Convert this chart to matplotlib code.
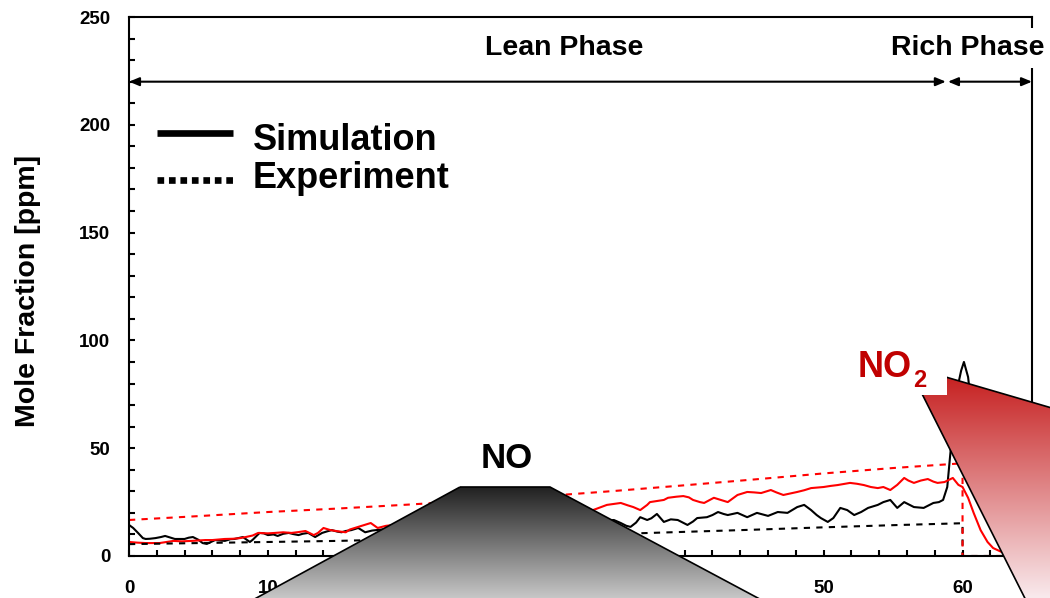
import numpy as np
import matplotlib
matplotlib.use("Agg")
import matplotlib.pyplot as plt
from matplotlib.patches import Polygon, Rectangle
from matplotlib.lines import Line2D
from matplotlib.ticker import MultipleLocator

plt.rcParams['font.family'] = ['Liberation Sans', 'DejaVu Sans']
plt.rcParams['font.weight'] = 'bold'

# --- data ---
# NO simulation (black solid)
no_sim_t = [0, 0.3, 0.65, 1.0, 1.2, 1.5, 1.9, 2.3, 2.6, 3.0, 3.3, 4.0, 4.3, 4.6, 5.0, 5.3, 5.6,
            5.9, 6.2, 6.9, 7.3, 7.6, 8.2, 8.7, 8.9, 9.4, 9.7, 10.0, 10.4, 10.7, 11.1, 11.5, 11.8,
            12.2, 12.5, 12.9, 13.4, 13.9, 14.3, 14.6, 15.0, 15.3, 15.6, 16.0, 16.5, 17.0, 17.5,
            18.5, 20, 21.5, 23, 24.5, 26, 27.5, 29, 30.5, 32, 33.5, 34.9, 35.4, 35.8, 36.1, 36.5,
            36.8, 37.3, 37.6, 38.0, 38.5, 39.0, 39.5, 40.2, 40.6, 40.9, 41.6, 42.0, 42.4, 42.8,
            43.1, 43.8, 44.5, 45.2, 46.0, 46.7, 47.4, 48.1, 48.6, 49.1, 49.5, 49.8, 50.3, 50.7,
            51.2, 51.7, 52.2, 52.7, 53.2, 53.9, 54.3, 54.8, 55.3, 55.8, 56.5, 57.2, 57.9, 58.3,
            58.6, 58.9, 59.1, 59.4, 59.7, 59.9, 60.1, 60.4, 60.8, 61.3, 62, 63, 64, 65]
no_sim = [14.4, 13, 10.7, 8.3, 7.9, 8.0, 8.3, 8.8, 9.3, 8.5, 7.9, 7.9, 8.5, 8.8, 7.5, 6.0, 5.6,
          6.5, 7.4, 7.0, 7.8, 7.9, 8.8, 6.5, 7.5, 10.7, 10.5, 9.7, 10, 9.3, 10.3, 10.7, 10.2,
          9.7, 10.3, 10.7, 8.8, 10.7, 11.5, 12, 11.3, 11, 11.6, 12, 13, 11, 11.8,
          12.5, 12, 13.5, 13, 14, 13.5, 14.8, 14.2, 15.5, 15, 16, 16.7, 15.3, 14.0, 13.5, 15.5,
          18, 16.7, 17.5, 19.5, 15.8, 17, 16.7, 14.4, 16, 17.6, 18, 19, 20.4, 19.5,
          19, 20, 18, 20, 18.6, 20.4, 20, 22.7, 23.7, 21.3, 19, 17.6, 15.8, 17.6,
          22.3, 21.3, 19, 20.4, 22.3, 23.7, 25, 26, 22.3, 25, 22.7, 22.3, 24.6, 25,
          26, 32, 46, 66, 80, 86, 90, 83, 60, 40, 25, 12, 5, 2]

# NO2 simulation (red solid)
no2_sim_t = [0, 0.6, 1.2, 2.2, 2.7, 3.2, 3.8, 4.5, 5.5, 6.0, 6.9, 7.5, 8.0, 8.4, 8.9, 9.3, 10.0,
             10.5, 11.1, 11.7, 12.2, 12.7, 13.3, 13.6, 14.0, 14.5, 15.0, 15.6, 15.9, 16.5, 17.0,
             17.4, 17.9, 18.5, 20, 22, 24, 26, 28, 30, 32, 33.4, 33.9, 34.4, 35.4, 35.9, 36.3,
             36.8, 37.3, 37.5, 38.0, 38.5, 38.8, 39.4, 39.9, 40.3, 40.6, 41.1, 41.4, 42.1, 42.6,
             43.1, 43.8, 44.5, 45.0, 45.5, 46.2, 46.6, 47.1, 48.1, 48.6, 49.1, 50.0, 50.5, 51.0,
             51.9, 52.4, 52.9, 53.4, 53.9, 54.3, 54.8, 55.3, 55.8, 56.1, 56.5, 57.0, 57.5, 57.9,
             58.2, 58.7, 59.3, 59.7, 60.0, 60.4, 60.8, 61.3, 61.8, 62.2, 62.8, 63.2, 64, 65]
no2_sim = [6.5, 6.2, 6.0, 6.0, 6.5, 7.0, 6.8, 7.0, 7.4, 7.4, 7.9, 8.0, 8.3, 8.8, 9.5, 10.7, 10.5,
           10.7, 11, 10.7, 11.1, 11.6, 9.7, 10.7, 13, 12, 11.5, 11, 12.3, 13.5, 14.5,
           15.3, 13, 14, 15, 16.5, 17, 18.5, 19, 20, 20.5, 21.3, 22.5, 23.7, 24.6, 23.5, 22.7,
           21.3, 23.7, 25, 25.5, 26, 27, 27.5, 27.8, 27.2, 26, 25, 24.6, 27, 26,
           25, 28.3, 29.7, 29.5, 29.2, 30.6, 29.5, 28.3, 29.7, 30.5, 31.5, 32, 32.5, 32.9,
           33.9, 33.5, 32.9, 32, 31.5, 32, 30.6, 33, 36.2, 35, 33.9, 35, 35.7, 34.5,
           33.9, 34.3, 36.2, 33, 32, 27, 20, 12, 6.5, 3.7, 1.9, 1.4, 0.5, 0.2]

# experiments (dashed)
exp_t = [0, 5, 10, 15, 20, 25, 30, 35, 40, 45, 50, 55, 60, 60, 65]
no_exp = [5.5, 6, 6.5, 7, 7.8, 8.5, 9.3, 10.2, 11.2, 12.2, 13.3, 14.3, 15.2, 0, 0]
no2_exp = [16.7, 18.5, 20.4, 22, 23.8, 25.8, 27.8, 30.2, 32.8, 35.5, 38.3, 40.8, 43, 0, 0]

lean_span = (0, 58.8)
rich_span = (58.95, 65)
phase_y = 220

W, H = 1050, 598
fig = plt.figure(figsize=(W / 100, H / 100), dpi=100)
ax = fig.add_axes([129 / W, 1 - 556 / H, (1032 - 129) / W, (556 - 17) / H])

ax.plot(no_sim_t, no_sim, color='black', lw=1.5)
ax.plot(no2_sim_t, no2_sim, color='red', lw=1.5)
ax.plot(exp_t, no_exp, color='black', lw=1.5, dashes=(3, 3))
ax.plot(exp_t, no2_exp, color='red', lw=1.5, dashes=(3, 3))

ax.set_xlim(0, 65)
ax.set_ylim(0, 250)
ax.xaxis.set_major_locator(MultipleLocator(10))
ax.xaxis.set_minor_locator(MultipleLocator(2))
ax.yaxis.set_major_locator(MultipleLocator(50))
ax.yaxis.set_minor_locator(MultipleLocator(10))
ax.tick_params(which='both', direction='in', width=1.5, length=4.5, labelsize=13.5)
ax.tick_params(axis='y', pad=13.5)
ax.tick_params(axis='x', pad=17)
for s in ax.spines.values():
    s.set_linewidth(1.5)

fig.text(28 / W, 1 - 291 / H, 'Mole Fraction [ppm]', rotation=90,
         ha='center', va='center', fontsize=20.5)

# phase arrows
arrow_kw = dict(arrowstyle='<|-|>,head_length=0.6,head_width=0.25', color='black',
                lw=1.5, shrinkA=0, shrinkB=0)
ax.annotate('', xy=(lean_span[1], phase_y), xytext=(lean_span[0], phase_y),
            arrowprops=arrow_kw, annotation_clip=False)
ax.annotate('', xy=(rich_span[1], phase_y), xytext=(rich_span[0], phase_y),
            arrowprops=arrow_kw, annotation_clip=False)
ax.text(31.3, 232.4, 'Lean Phase', ha='center', va='baseline', fontsize=20.5)
ax.text(60.4, 232.4, 'Rich Phase', ha='center', va='baseline', fontsize=20.5,
        zorder=5, bbox=dict(facecolor='white', edgecolor='none', boxstyle='square,pad=0.25'))

# legend
ax.add_line(Line2D([0.031, 0.115], [0.785, 0.785], transform=ax.transAxes,
                   color='black', lw=4.8, solid_capstyle='butt'))
ax.add_line(Line2D([0.031, 0.115], [0.6976, 0.6976], transform=ax.transAxes,
                   color='black', lw=4.8, dashes=(1.0, 0.72)))
ax.text(0.137, 0.7532, 'Simulation', transform=ax.transAxes, fontsize=26, va='baseline')
ax.text(0.137, 0.6827, 'Experiment', transform=ax.transAxes, fontsize=26, va='baseline')

# callout overlays in pixel coordinates
ov = fig.add_axes([0, 0, 1, 1])
ov.set_xlim(0, W)
ov.set_ylim(H, 0)
ov.axis('off')
ov.patch.set_alpha(0)

# NO callout (gray gradient)
ys = np.linspace(487, 620, 200)
g = 0.13 + (0.78 - 0.13) * (ys - 487) / (598 - 487)
g = np.clip(g, 0, 1)
img = np.repeat(np.stack([g, g, g], axis=1)[:, None, :], 2, axis=1)
no_poly = Polygon([(460, 487), (550, 487), (799, 620), (216, 620)], closed=True,
                  facecolor='none', edgecolor='black', lw=1.2)
ov.add_patch(no_poly)
im = ov.imshow(img, extent=(200, 820, 620, 487), aspect='auto', interpolation='bilinear')
im.set_clip_path(no_poly)
ov.text(507, 468, 'NO', ha='center', va='baseline', fontsize=25, color='black')

# NO2 callout (red gradient)
ys = np.linspace(366, 660, 200)
f = np.clip((ys - 366) / (598 - 366), 0, 1.2)
top = np.array([196, 24, 24]) / 255
bot = np.array([249, 234, 237]) / 255
cols = np.clip(top[None, :] + (bot - top)[None, :] * f[:, None], 0, 1)
img2 = np.repeat(cols[:, None, :], 2, axis=1)
no2_poly = Polygon([(908, 366), (1110, 425), (1110, 660), (1056, 660)], closed=True,
                   facecolor='none', edgecolor='black', lw=1.2)
ov.add_patch(no2_poly)
im2 = ov.imshow(img2, extent=(900, 1110, 660, 366), aspect='auto', interpolation='bilinear')
im2.set_clip_path(no2_poly)
ov.add_patch(Rectangle((838, 333), 109, 62, facecolor='white', edgecolor='none', zorder=4))
ov.text(885, 377, 'NO', ha='center', va='baseline', fontsize=26, color='#c00000', zorder=5)
ov.text(913, 387, '2', ha='left', va='baseline', fontsize=17, color='#c00000', zorder=5)
ov.set_xlim(0, W)
ov.set_ylim(H, 0)

fig.savefig('out.png', dpi=100)
